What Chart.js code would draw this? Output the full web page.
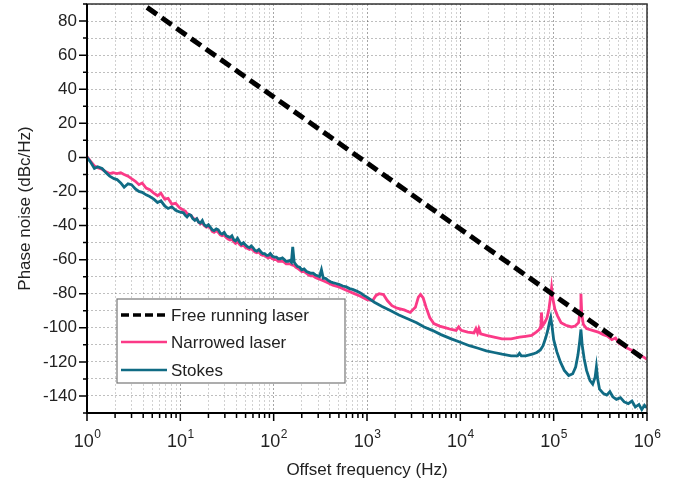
<!DOCTYPE html>
<html>
<head>
<meta charset="utf-8">
<script src="https://cdn.jsdelivr.net/npm/chart.js@4.4.1/dist/chart.umd.min.js"></script>
<style>
  html, body { margin: 0; padding: 0; background: #fff; }
  #wrap { width: 688px; height: 489px; }
</style>
</head>
<body>
<div id="wrap"><canvas id="chartNoise"></canvas></div>
<script>
// values: [offset frequency in Hz, dBc/Hz]
const freeRunning = [[4.4, 88], [1000000, -119.5]];

const narrowed = [
  [1, 0.5], [1.1, -2.5], [1.2, -5], [1.3, -6], [1.45, -7], [1.6, -8.5], [1.75, -9.5], [1.9, -9],
  [2.1, -9.5], [2.3, -9], [2.5, -10], [2.75, -11], [3.0, -12.5], [3.3, -14], [3.6, -16], [3.9, -15],
  [4.3, -18], [4.7, -19], [5.2, -21], [5.7, -22.5], [6.2, -21], [6.8, -24.5], [7.4, -24], [8.1, -27.5],
  [8.9, -27], [9.8, -29.5], [10.8, -31], [11.3, -31.5], [11.8, -33], [12.4, -33.5], [13, -34], [13.6, -35.5],
  [14.3, -36.5], [15, -36], [15.7, -38], [16.4, -39], [17.2, -38.5], [18, -40], [19, -41], [20, -40.5],
  [21, -41.5], [22, -43.5], [23, -44], [24.3, -43], [25.5, -44], [26.8, -45.5], [28, -46], [29.5, -45.5],
  [31, -47], [32.5, -48], [34, -48.5], [35.7, -48], [37.5, -49.5], [39, -50.5], [41, -49.5], [43, -51],
  [45, -52], [47.5, -51.5], [50, -53], [52.5, -53.5], [55, -54], [57.5, -53.5], [60, -54.5], [63, -55.5],
  [66, -56], [69.5, -55.5], [73, -57], [76.5, -57.5], [80, -57.5], [84, -58.5], [88, -59], [92, -58.5],
  [97, -59.5], [102, -60], [107, -60], [112, -61], [118, -61], [124, -61], [130, -61.5], [136, -62.5],
  [143, -62.5], [149, -62.5], [155, -63], [166, -63.5], [173, -64.5], [180, -65], [190, -66], [200, -67],
  [212, -67], [225, -68], [237, -69], [250, -69.5], [265, -69.5], [280, -70.5], [295, -71], [310, -71.5],
  [345, -72.5], [380, -73.5], [430, -75], [500, -76], [600, -78], [700, -79.5], [850, -81.5], [1000, -83.5],
  [1150, -84], [1250, -81], [1350, -80], [1500, -80.5], [1650, -84], [1850, -87], [2100, -88.5], [2500, -89.5],
  [2900, -91], [3300, -88], [3550, -82], [3750, -80.5], [4000, -82.5], [4300, -88], [4700, -94], [5200, -97.5],
  [6000, -99], [7000, -100], [8000, -101], [9000, -101.5], [9600, -99.5], [10200, -101.5], [12000, -102.5], [14000, -103],
  [14700, -100.5], [15300, -103], [15800, -100.5], [16500, -103.5], [19000, -104.5], [23000, -105.5], [28000, -106.5], [35000, -106.5],
  [43000, -105.5], [50000, -105], [58000, -104.5], [65000, -102.5], [70000, -101], [73000, -99], [74000, -91], [75500, -99],
  [80000, -97], [85000, -94], [89000, -89], [92000, -83], [95000, -76.5], [98000, -83], [103000, -89], [110000, -93],
  [120000, -97], [135000, -98.5], [155000, -99.5], [170000, -99], [185000, -97], [192000, -90], [196000, -80], [200000, -92],
  [208000, -98], [225000, -100.5], [260000, -101.5], [300000, -102.5], [340000, -104], [380000, -105], [420000, -107], [460000, -106],
  [500000, -109], [560000, -110.5], [620000, -112], [700000, -113.5], [780000, -115], [870000, -116.5], [940000, -117.5], [1000000, -118.5]
];

const stokes = [
  [1, 0], [1.1, -3], [1.2, -6.5], [1.3, -5.5], [1.45, -6.5], [1.6, -9], [1.75, -11], [1.95, -12.5],
  [2.1, -13], [2.3, -15], [2.5, -17.5], [2.75, -15.5], [3.0, -16], [3.3, -18.5], [3.6, -20], [3.9, -20.5],
  [4.3, -22], [4.7, -23], [5.2, -24.5], [5.7, -26.5], [6.2, -25.5], [6.8, -28.5], [7.4, -30], [8.1, -29],
  [8.9, -31], [9.8, -32], [10.8, -32.5], [11.3, -34], [11.8, -35], [12.4, -33.5], [13, -34], [13.6, -36],
  [14.3, -37], [15, -36], [15.7, -38], [16.4, -38.5], [17.2, -37], [18, -39.5], [19, -40.5], [20, -39.5],
  [21, -41], [22, -42.5], [23, -43], [24.3, -42], [25.5, -42.5], [26.8, -44.5], [28, -45], [29.5, -44],
  [31, -46], [32.5, -46.5], [34, -47], [35.7, -46], [37.5, -48.5], [39, -49], [41, -47.5], [43, -49.5],
  [45, -51], [47.5, -50], [50, -51.5], [52.5, -52.5], [55, -53], [57.5, -52], [60, -53], [63, -54.5],
  [66, -55], [69.5, -54], [73, -55.5], [76.5, -56.5], [80, -56.5], [84, -57.5], [88, -57.5], [92, -56.5],
  [97, -58], [102, -58.5], [107, -58.5], [112, -59.5], [118, -59.5], [124, -59], [130, -60], [136, -61],
  [143, -61], [149, -60.5], [155, -61.5], [160, -52.5], [166, -61.5], [173, -63], [180, -64], [190, -64.5],
  [200, -66], [212, -65.5], [225, -67], [237, -67.5], [250, -68], [265, -68], [280, -69], [295, -69.5],
  [310, -70], [325, -66], [340, -71], [360, -71], [380, -72], [405, -73], [430, -73.5], [465, -74],
  [500, -74.5], [550, -75.5], [600, -76], [650, -77], [700, -77.5], [775, -78.5], [850, -79.5], [925, -81],
  [1000, -82], [1200, -85], [1450, -87.5], [1800, -90], [2200, -92.5], [2800, -95], [3400, -97], [4100, -99.5],
  [5000, -101.5], [6200, -104], [8000, -106.5], [10000, -108.5], [12500, -110.5], [15500, -112], [19000, -113.5], [23000, -114.5],
  [28000, -115.5], [35000, -116.5], [41000, -116.5], [43000, -115], [45000, -116.5], [50000, -116.5], [59000, -115.5], [66000, -114.5],
  [72000, -113], [77000, -110.5], [82000, -106], [86000, -102], [90000, -97], [93000, -94], [96000, -99], [100000, -107],
  [108000, -114], [118000, -120], [130000, -125], [145000, -128], [160000, -127], [172000, -123], [182000, -116], [190000, -108],
  [196000, -101], [202000, -110], [212000, -118], [225000, -125], [245000, -131], [262000, -133], [278000, -129], [287000, -123],
  [296000, -130], [310000, -136], [340000, -138.5], [370000, -139.5], [400000, -137.5], [430000, -140.5], [470000, -142], [520000, -141],
  [570000, -143.5], [630000, -144.5], [690000, -143], [750000, -146.5], [820000, -145], [880000, -148], [940000, -145.5], [1000000, -147]
];

const seriesNames = ["Free running laser", "Narrowed laser", "Stokes"];
const yLabels = [80, 60, 40, 20, 0, -20, -40, -60, -80, -100, -120, -140];
const decades = [1, 10, 100, 1000, 10000, 100000, 1000000];
const exponents = ["0", "1", "2", "3", "4", "5", "6"];

const FONT = "'Liberation Sans', Arial, sans-serif";
const toXY = (arr) => arr.map((p) => ({ x: p[0], y: p[1] }));

// all log ticks 1..9 per decade
const xTicks = [];
decades.forEach((d) => {
  for (let k = 1; k <= 9; k++) {
    if (d * k <= 1000000) xTicks.push(d * k);
  }
});

const frameAndLegend = {
  id: "frameAndLegend",
  afterDraw(chart) {
    const { ctx, chartArea: a, scales } = chart;
    ctx.save();
    // frame
    ctx.strokeStyle = "#333";
    ctx.lineWidth = 1.5;
    ctx.strokeRect(a.left, a.top, a.right - a.left, a.bottom - a.top);
    ctx.strokeStyle = "#000";
    ctx.lineWidth = 2;
    ctx.beginPath();
    ctx.moveTo(a.left, a.top);
    ctx.lineTo(a.left, a.bottom);
    ctx.lineTo(a.right, a.bottom);
    ctx.stroke();
    // tick marks
    ctx.lineWidth = 1.5;
    ctx.beginPath();
    for (let v = -150; v <= 90; v += 10) {
      const y = scales.y.getPixelForValue(v);
      const len = v % 20 === 0 ? 8 : 4;
      ctx.moveTo(a.left - len, y);
      ctx.lineTo(a.left, y);
    }
    xTicks.forEach((v) => {
      const x = scales.x.getPixelForValue(v);
      const len = decades.includes(v) ? 8 : 5;
      ctx.moveTo(x, a.bottom);
      ctx.lineTo(x, a.bottom + len);
    });
    ctx.stroke();

    // decade labels 10^n with a raised exponent
    ctx.fillStyle = "#222";
    ctx.textBaseline = "alphabetic";
    ctx.textAlign = "left";
    decades.forEach((v, i) => {
      const x = scales.x.getPixelForValue(v);
      ctx.font = "18px " + FONT;
      const wBase = ctx.measureText("10").width;
      ctx.font = "12px " + FONT;
      const wExp = ctx.measureText(exponents[i]).width;
      const x0 = x - (wBase + wExp) / 2;
      ctx.font = "18px " + FONT;
      ctx.fillText("10", x0, a.bottom + 34);
      ctx.font = "12px " + FONT;
      ctx.fillText(exponents[i], x0 + wBase + 0.5, a.bottom + 25);
    });

    // legend box
    const bx = a.left + 30, by = a.bottom - 114, bw = 228, bh = 84;
    ctx.fillStyle = "#fff";
    ctx.fillRect(bx, by, bw, bh);
    ctx.strokeStyle = "#777";
    ctx.lineWidth = 1.2;
    ctx.strokeRect(bx, by, bw, bh);
    ctx.font = "17px " + FONT;
    ctx.textBaseline = "middle";
    const rows = [16, 43, 71];
    chart.data.datasets.forEach((ds, i) => {
      const y = by + rows[i];
      ctx.strokeStyle = ds.borderColor;
      ctx.lineWidth = i === 0 ? 3.5 : 2.5;
      ctx.setLineDash(i === 0 ? [8, 4] : []);
      ctx.beginPath();
      ctx.moveTo(bx + 4, y);
      ctx.lineTo(bx + 50, y);
      ctx.stroke();
      ctx.setLineDash([]);
      ctx.fillStyle = "#222";
      ctx.fillText(ds.label, bx + 54, y + 1);
    });
    ctx.restore();
  },
};

const data = {
  datasets: [
    {
      label: seriesNames[0],
      data: toXY(freeRunning),
      borderColor: "#000000",
      borderWidth: 5,
      borderDash: [12, 6],
      order: 0,
    },
    {
      label: seriesNames[1],
      data: toXY(narrowed),
      borderColor: "#fb3a87",
      borderWidth: 2.8,
      order: 2,
    },
    {
      label: seriesNames[2],
      data: toXY(stokes),
      borderColor: "#106b84",
      borderWidth: 2.8,
      order: 1,
    },
  ],
};

const config = {
  type: "line",
  data,
  options: {
    responsive: false,
    animation: false,
    events: [],
    layout: { padding: { top: 4, right: 41, left: 0, bottom: 0 } },
    elements: { point: { radius: 0 }, line: { tension: 0 } },
    plugins: { legend: { display: false }, tooltip: { enabled: false } },
    scales: {
      x: {
        type: "logarithmic",
        min: 1,
        max: 1000000,
        afterBuildTicks: (scale) => {
          scale.ticks = xTicks.map((v) => ({ value: v }));
        },
        afterFit: (scale) => {
          scale.height = 76;
          scale.paddingLeft = 0;
          scale.paddingRight = 0;
        },
        ticks: { autoSkip: false, maxRotation: 0, callback: () => "" },
        grid: {
          drawTicks: false,
          lineWidth: 1,
          color: (c) => (decades.includes(c.tick && c.tick.value) ? "rgba(0,0,0,0.35)" : "rgba(0,0,0,0.18)"),
        },
        border: { display: false, dash: [2, 2] },
        title: {
          display: true,
          text: "Offset frequency (Hz)",
          color: "#222",
          font: { family: FONT, size: 17 },
          padding: { top: 0, bottom: 8 },
        },
      },
      y: {
        min: -150,
        max: 90,
        afterBuildTicks: (scale) => {
          const t = [];
          for (let v = -150; v <= 90; v += 10) t.push({ value: v });
          scale.ticks = t;
        },
        afterFit: (scale) => {
          scale.width = 87;
          scale.paddingTop = 0;
          scale.paddingBottom = 0;
        },
        ticks: {
          autoSkip: false,
          padding: 10,
          color: "#222",
          font: { family: FONT, size: 17 },
          callback: (v) => (yLabels.includes(v) ? String(v) : ""),
        },
        grid: {
          drawTicks: false,
          lineWidth: 1,
          color: "rgba(0,0,0,0.25)",
        },
        border: { display: false, dash: [2, 2] },
        title: {
          display: true,
          text: "Phase noise (dBc/Hz)",
          color: "#222",
          font: { family: FONT, size: 17 },
          padding: { top: 15, bottom: 0 },
        },
      },
    },
  },
  plugins: [frameAndLegend],
};

const canvas = document.getElementById("chartNoise");
canvas.width = 688;
canvas.height = 489;
const chartNoise = new Chart(canvas, config);
</script>
</body>
</html>
